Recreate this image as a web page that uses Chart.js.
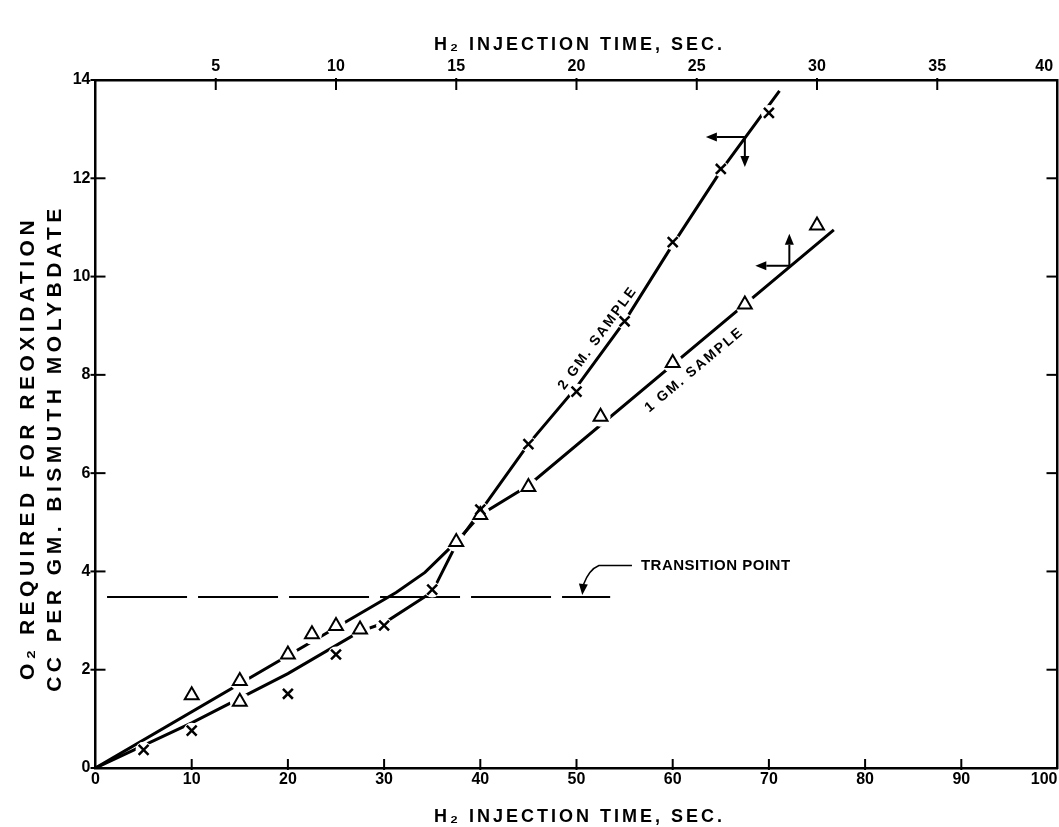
<!DOCTYPE html>
<html>
<head>
<meta charset="utf-8">
<title>O2 required for reoxidation</title>
<script src="https://cdn.jsdelivr.net/npm/chart.js@4.4.0/dist/chart.umd.min.js"></script>
<style>
  html, body { margin: 0; padding: 0; background: #fff; overflow: hidden; }
  #wrap { position: relative; width: 1059px; height: 827px; }
</style>
</head>
<body>
<div id="wrap"><canvas id="grafico"></canvas></div>
<script>
// Tick labels of the four axes
const bottomTicks = [0, 10, 20, 30, 40, 50, 60, 70, 80, 90, 100];
const topTicks = [5, 10, 15, 20, 25, 30, 35, 40];
const leftTicks = [0, 2, 4, 6, 8, 10, 12, 14];
const rightTicks = [2, 4, 6, 8, 10, 12];

// 2 gm. sample (X marks) - read against the bottom axis
const gm2Time = [5, 10, 20, 25, 30, 35, 40, 45, 50, 55, 60, 65, 70];
const gm2O2 = [0.37, 0.76, 1.51, 2.31, 2.90, 3.63, 5.26, 6.59, 7.66, 9.09, 10.70, 12.19, 13.33];

// 1 gm. sample (triangles) - read against the top axis
const gm1Time = [4, 6, 6, 8, 9, 10, 11, 15, 16, 18, 21, 24, 27, 30];
const gm1O2 = [1.48, 1.77, 1.35, 2.31, 2.72, 2.89, 2.82, 4.60, 5.15, 5.72, 7.15, 8.24, 9.43, 11.04];

// Hand drawn curves through the points
const gm2CurveTime = [0, 10, 20, 27.5, 30, 35, 37.5, 40, 45, 50, 55, 60, 65, 71.1];
const gm2CurveO2 = [0, 0.92, 1.92, 2.78, 2.95, 3.58, 4.55, 5.22, 6.59, 7.75, 9.09, 10.65, 12.15, 13.78];
const gm1CurveTime = [0, 12.5, 13.7, 15, 16, 18, 30.7];
const gm1CurveO2 = [0, 3.57, 3.98, 4.60, 5.15, 5.75, 10.95];

// Transition point (dashed line, bottom axis)
const transitionTime = [1.2, 53.5];
const transitionO2 = [3.48, 3.48];

const FONT = '"Liberation Sans", Arial, sans-serif';

let grafico;

/**
 * Joins an x list and a y list into {x, y} points.
 */
function toPoints(xs, ys) {
    return xs.map((x, i) => ({ x: x, y: ys[i] }));
}

/**
 * Pads the right-most label so it sits left of the frame edge, as in the drawing.
 */
function edgeLabel(last) {
    return function(value) {
        return value === last ? value + '      ' : String(value);
    };
}

/**
 * Line with a filled arrow head at (x1, y1).
 */
function drawArrow(ctx, x0, y0, x1, y1) {
    const ang = Math.atan2(y1 - y0, x1 - x0);
    const head = 11, half = 4.5;
    const bx = x1 - Math.cos(ang) * head, by = y1 - Math.sin(ang) * head;
    ctx.beginPath();
    ctx.moveTo(x0, y0);
    ctx.lineTo(bx, by);
    ctx.stroke();
    ctx.beginPath();
    ctx.moveTo(x1, y1);
    ctx.lineTo(bx - Math.sin(ang) * half, by + Math.cos(ang) * half);
    ctx.lineTo(bx + Math.sin(ang) * half, by - Math.cos(ang) * half);
    ctx.closePath();
    ctx.fill();
}

// Tick marks drawn inside the frame
const inwardTicks = {
    id: 'inwardTicks',
    afterDraw(chart) {
        const { ctx, chartArea: a, scales } = chart;
        ctx.save();
        ctx.strokeStyle = '#000';
        ctx.lineWidth = 2;
        leftTicks.forEach(v => {
            const py = scales.y.getPixelForValue(v);
            ctx.beginPath(); ctx.moveTo(a.left - 5, py); ctx.lineTo(a.left + 10, py); ctx.stroke();
        });
        rightTicks.forEach(v => {
            const py = scales.y2.getPixelForValue(v);
            ctx.beginPath(); ctx.moveTo(a.right - 11, py); ctx.lineTo(a.right, py); ctx.stroke();
        });
        bottomTicks.slice(1, -1).forEach(v => {
            const px = scales.x.getPixelForValue(v);
            ctx.beginPath(); ctx.moveTo(px, a.bottom + 2); ctx.lineTo(px, a.bottom - 9); ctx.stroke();
        });
        topTicks.slice(0, -1).forEach(v => {
            const px = scales.x2.getPixelForValue(v);
            ctx.beginPath(); ctx.moveTo(px, a.top - 2); ctx.lineTo(px, a.top + 10); ctx.stroke();
        });
        ctx.restore();
    }
};

// Titles, curve labels, arrows and the transition point note
const notes = {
    id: 'notes',
    afterDraw(chart) {
        const { ctx, chartArea: a, scales } = chart;
        const cx = (a.left + a.right) / 2;
        ctx.save();
        ctx.fillStyle = '#000';
        ctx.strokeStyle = '#000';
        ctx.textAlign = 'center';
        ctx.textBaseline = 'middle';

        // axis titles
        ctx.font = 'bold 18px ' + FONT;
        ctx.letterSpacing = '3px';
        ctx.fillText('H\u2082 INJECTION TIME, SEC.', cx + 3, 45);
        ctx.fillText('H\u2082 INJECTION TIME, SEC.', cx + 3, 817);

        ctx.font = 'bold 21px ' + FONT;
        ctx.letterSpacing = '4.5px';
        const cy = (a.top + a.bottom) / 2 + 24;
        [['O\u2082 REQUIRED FOR REOXIDATION', 28], ['CC PER GM. BISMUTH MOLYBDATE', 55]].forEach(([txt, x]) => {
            ctx.save();
            ctx.translate(x, cy);
            ctx.rotate(-Math.PI / 2);
            ctx.fillText(txt, 0, 0);
            ctx.restore();
        });

        // curve labels
        ctx.font = 'bold 14px ' + FONT;
        ctx.letterSpacing = '2px';
        const l2x = scales.x.getPixelForValue(52.2), l2y = scales.y.getPixelForValue(8.75);
        ctx.save(); ctx.translate(l2x, l2y); ctx.rotate(-54 * Math.PI / 180);
        ctx.fillText('2 GM. SAMPLE', 0, 0); ctx.restore();
        const l1x = scales.x2.getPixelForValue(24.9), l1y = scales.y.getPixelForValue(8.1);
        ctx.save(); ctx.translate(l1x, l1y); ctx.rotate(-40 * Math.PI / 180);
        ctx.fillText('1 GM. SAMPLE', 0, 0); ctx.restore();

        // transition point note
        ctx.font = 'bold 15px ' + FONT;
        ctx.letterSpacing = '0.5px';
        ctx.textAlign = 'left';
        const tx = scales.x.getPixelForValue(56.7), ty = scales.y.getPixelForValue(4.12);
        ctx.fillText('TRANSITION POINT', tx, ty);
        const tipX = scales.x.getPixelForValue(50.6), tipY = scales.y.getPixelForValue(3.48) - 2;
        ctx.lineWidth = 1.5;
        ctx.beginPath();
        ctx.moveTo(tx - 9, ty);
        ctx.lineTo(tx - 42, ty);
        ctx.quadraticCurveTo(tx - 52, ty + 4, tipX + 1, tipY - 10);
        ctx.stroke();
        drawArrow(ctx, tipX + 1, tipY - 10, tipX, tipY);

        // which axes each curve belongs to
        ctx.lineWidth = 2;
        const a2x = scales.x.getPixelForValue(67.5), a2y = scales.y.getPixelForValue(12.84);
        drawArrow(ctx, a2x, a2y, a2x - 39, a2y);
        drawArrow(ctx, a2x, a2y, a2x, a2y + 30);
        const a1x = scales.x2.getPixelForValue(28.85), a1y = scales.y.getPixelForValue(10.22);
        drawArrow(ctx, a1x, a1y, a1x - 34, a1y);
        drawArrow(ctx, a1x, a1y, a1x, a1y - 32);
        ctx.restore();
    }
};

/**
 * Builds the chart with both samples and the four axes.
 */
function initGrafico() {
    const ctx = document.getElementById('grafico').getContext('2d');
    const tickFont = { family: FONT, size: 16, weight: 'bold' };
    const frame = { display: true, color: '#000', width: 2.5 };

    grafico = new Chart(ctx, {
        type: 'scatter',
        data: {
            datasets: [
                {
                    type: 'line', label: 'Transition point',
                    data: toPoints(transitionTime, transitionO2),
                    xAxisID: 'x', yAxisID: 'y',
                    borderColor: '#000', borderWidth: 2, borderDash: [80, 11],
                    pointRadius: 0, order: 5
                },
                {
                    type: 'line', label: '2 gm. curve',
                    data: toPoints(gm2CurveTime, gm2CurveO2),
                    xAxisID: 'x', yAxisID: 'y',
                    borderColor: '#000', borderWidth: 3, pointRadius: 0, tension: 0, order: 4
                },
                {
                    type: 'line', label: '1 gm. curve',
                    data: toPoints(gm1CurveTime, gm1CurveO2),
                    xAxisID: 'x2', yAxisID: 'y',
                    borderColor: '#000', borderWidth: 3, pointRadius: 0, tension: 0, order: 4
                },
                {
                    label: '2 gm. gap', data: toPoints(gm2Time, gm2O2),
                    xAxisID: 'x', yAxisID: 'y',
                    pointStyle: 'circle', pointRadius: 8, borderWidth: 0,
                    backgroundColor: '#fff', order: 2
                },
                {
                    label: '1 gm. gap', data: toPoints(gm1Time, gm1O2),
                    xAxisID: 'x2', yAxisID: 'y',
                    pointStyle: 'circle', pointRadius: 10, borderWidth: 0,
                    backgroundColor: '#fff', order: 2
                },
                {
                    label: '2 GM. SAMPLE', data: toPoints(gm2Time, gm2O2),
                    xAxisID: 'x', yAxisID: 'y',
                    pointStyle: 'crossRot', pointRadius: 7, borderWidth: 2.5,
                    borderColor: '#000', order: 1
                },
                {
                    label: '1 GM. SAMPLE', data: toPoints(gm1Time, gm1O2),
                    xAxisID: 'x2', yAxisID: 'y',
                    pointStyle: 'triangle', pointRadius: 8, borderWidth: 2,
                    borderColor: '#000', backgroundColor: '#fff', order: 1
                }
            ]
        },
        options: {
            responsive: true,
            maintainAspectRatio: false,
            animation: false,
            events: [],
            layout: { padding: 0, autoPadding: false },
            plugins: {
                legend: { display: false },
                tooltip: { enabled: false },
                title: { display: false }
            },
            scales: {
                x: {
                    type: 'linear', position: 'bottom', min: 0, max: 100,
                    afterBuildTicks: s => { s.ticks = bottomTicks.map(v => ({ value: v })); },
                    afterFit: s => { s.height = 59; s.paddingLeft = 0; s.paddingRight = 0; },
                    grid: { display: false, drawTicks: false },
                    border: frame,
                    ticks: { color: '#000', font: tickFont, padding: 2, maxRotation: 0, autoSkip: false,
                             callback: edgeLabel(100) }
                },
                x2: {
                    type: 'linear', position: 'top', min: 0, max: 40,
                    afterBuildTicks: s => { s.ticks = topTicks.map(v => ({ value: v })); },
                    afterFit: s => { s.height = 80; s.paddingLeft = 0; s.paddingRight = 0; },
                    grid: { display: false, drawTicks: false },
                    border: frame,
                    ticks: { color: '#000', font: tickFont, padding: 4, maxRotation: 0, autoSkip: false,
                             callback: edgeLabel(40) }
                },
                y: {
                    type: 'linear', position: 'left', min: 0, max: 14,
                    afterBuildTicks: s => { s.ticks = leftTicks.map(v => ({ value: v })); },
                    afterFit: s => { s.width = 95.5; s.paddingTop = 0; s.paddingBottom = 0; },
                    grid: { display: false, drawTicks: false },
                    border: frame,
                    ticks: { color: '#000', font: tickFont, padding: 5, autoSkip: false }
                },
                y2: {
                    type: 'linear', position: 'right', min: 0, max: 14,
                    afterBuildTicks: s => { s.ticks = rightTicks.map(v => ({ value: v })); },
                    afterFit: s => { s.width = 1.5; s.paddingTop = 0; s.paddingBottom = 0; },
                    grid: { display: false, drawTicks: false },
                    border: frame,
                    ticks: { display: false }
                }
            }
        },
        plugins: [inwardTicks, notes]
    });
}

initGrafico();
</script>
</body>
</html>
